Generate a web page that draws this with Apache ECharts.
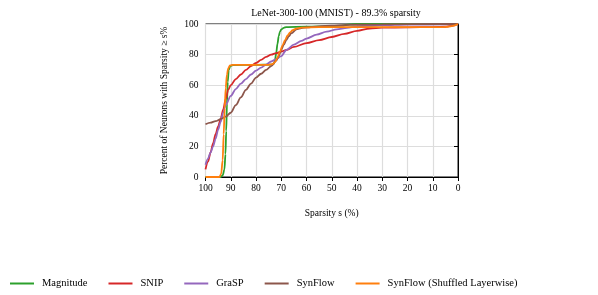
<!DOCTYPE html>
<html>
<head>
<meta charset="utf-8">
<script src="https://cdn.jsdelivr.net/npm/echarts@6/dist/echarts.min.js"></script>
<style>
  html, body { margin: 0; padding: 0; background: #fff; }
  #chart { width: 598px; height: 295px; }
</style>
</head>
<body>
<div id="chart"></div>
<script>
// sparsity levels (%) and percent of neurons
const magX = [100, 94, 93.2, 92.5, 92.1, 91.8, 91.5, 91.2, 90.8, 90.2, 89, 80, 74, 73, 72.5, 72, 71.5, 71, 70.5, 70, 69, 68, 60, 50, 46, 43, 40, 0];
const magY = [0, 0, 1, 5, 15, 30, 48, 62, 70, 72.5, 73.2, 73.3, 73.4, 74, 76, 81, 87, 92, 95, 96.5, 97.5, 98, 98.2, 98.5, 99, 99.7, 100, 100];

const snipX = [100, 99, 98, 97, 96, 95, 94, 93, 92, 91, 90, 88, 86, 84, 82, 80, 78, 76, 74, 72, 70, 68, 65, 60, 55, 50, 45, 40, 35, 30, 20, 10, 5, 2, 0];
const snipY = [5, 10, 16, 22, 28, 33, 38, 44, 51, 57, 60, 64, 67, 70, 72.5, 74.5, 76.5, 78.5, 80, 81, 82, 83, 85, 87.5, 89.5, 91.5, 93.5, 95.5, 97, 97.6, 97.8, 98, 98.2, 99, 100];

const graspX = [100, 99, 98, 97, 96, 95, 94, 93, 92, 90, 88, 86, 84, 82, 80, 78, 76, 74, 72, 70, 68, 65, 62, 60, 56, 52, 48, 44, 40, 35, 30, 20, 0];
const graspY = [8, 12, 16, 20, 25, 31, 36, 42, 47, 53, 57.5, 61, 64, 67, 69.5, 71.5, 73.5, 75.5, 77, 79, 83, 86.5, 89, 90.5, 93, 95, 96.5, 97.5, 98.3, 98.8, 99.2, 99.6, 100];

const synX = [100, 98, 96, 94, 92, 90, 88, 86, 84, 82, 80, 78, 76, 74, 72, 71, 70, 69, 68, 67, 66, 64, 62, 60, 55, 50, 45, 40, 30, 0];
const synY = [34.5, 35.5, 36.5, 37.8, 39.5, 42, 47, 52, 57, 61, 65, 67.5, 70, 72.5, 76, 79, 83, 86.5, 89.5, 92, 94, 96.5, 97.4, 97.8, 98.5, 99, 99.3, 99.5, 99.8, 100];

const shufX = [100, 94.5, 93.8, 93.2, 92.8, 92.4, 92, 91.5, 91, 90.3, 89, 80, 75, 73.5, 72.5, 71.5, 70.5, 69.5, 68.5, 67.5, 66.5, 65.5, 64, 62, 55, 45, 20, 6, 4, 2, 0];
const shufY = [0, 0, 2, 11, 28, 45, 58, 67, 71, 73, 73.3, 73.3, 73.3, 73.8, 75, 78, 82, 86, 89.5, 92.5, 94.5, 96, 97, 97.6, 98, 98, 98, 98, 98.2, 98.8, 100];

const names = ["Magnitude", "SNIP", "GraSP", "SynFlow", "SynFlow (Shuffled Layerwise)"];
const colors = ["#2ca02c", "#d62728", "#9467bd", "#8c564b", "#ff7f0e"];
const xs = [magX, snipX, graspX, synX, shufX];
const ys = [magY, snipY, graspY, synY, shufY];

const font = "Liberation Serif";
const chart = echarts.init(document.getElementById("chart"));

chart.setOption({
  animation: false,
  textStyle: { fontFamily: font, color: "#000" },
  title: {
    text: "LeNet-300-100 (MNIST) - 89.3% sparsity",
    left: 331,
    textAlign: "center",
    top: 3,
    textStyle: { fontFamily: font, fontSize: 10, fontWeight: "normal", color: "#000" }
  },
  grid: {
    left: 205.5,
    right: 140,
    top: 24,
    bottom: 118,
    show: true,
    borderColor: "#000",
    borderWidth: 1
  },
  legend: {
    data: names,
    left: 5,
    bottom: 1,
    icon: "rect",
    itemWidth: 24,
    itemHeight: 2,
    itemGap: 21,
    textStyle: { fontFamily: font, fontSize: 10.5, color: "#000", padding: [0, 0, 0, 3] }
  },
  xAxis: {
    type: "value",
    inverse: true,
    min: 0,
    max: 100,
    interval: 10,
    name: "Sparsity s (%)",
    nameLocation: "middle",
    nameGap: 31,
    nameTextStyle: { fontFamily: font, fontSize: 9.5, color: "#000" },
    axisLine: { lineStyle: { color: "#000", width: 1 } },
    axisTick: { length: 4, lineStyle: { color: "#000" } },
    axisLabel: { fontFamily: font, fontSize: 9.5, color: "#000", margin: 6 },
    splitLine: { show: true, lineStyle: { color: "#dddddd", width: 1.2 } }
  },
  yAxis: {
    type: "value",
    min: 0,
    max: 100,
    interval: 20,
    name: "Percent of Neurons with Sparsity \u2265 s%",
    nameLocation: "middle",
    nameRotate: 90,
    nameGap: 36,
    nameTextStyle: { fontFamily: font, fontSize: 9.5, color: "#000" },
    axisLine: { show: true, lineStyle: { color: "#000", width: 1 } },
    axisTick: { show: true, length: 4, lineStyle: { color: "#000" } },
    axisLabel: { fontFamily: font, fontSize: 9.5, color: "#000", margin: 7 },
    splitLine: { show: true, lineStyle: { color: "#dddddd", width: 1.2 } }
  },
  series: names.map((n, i) => ({
    name: n,
    type: "line",
    data: xs[i].map((x, j) => [x, ys[i][j]]),
    showSymbol: false,
    symbol: "none",
    smooth: 0.3,
    smoothMonotone: "x",
    clip: true,
    color: colors[i],
    lineStyle: { color: colors[i], width: 1.8 },
    itemStyle: { color: colors[i] }
  }))
});
</script>
</body>
</html>
